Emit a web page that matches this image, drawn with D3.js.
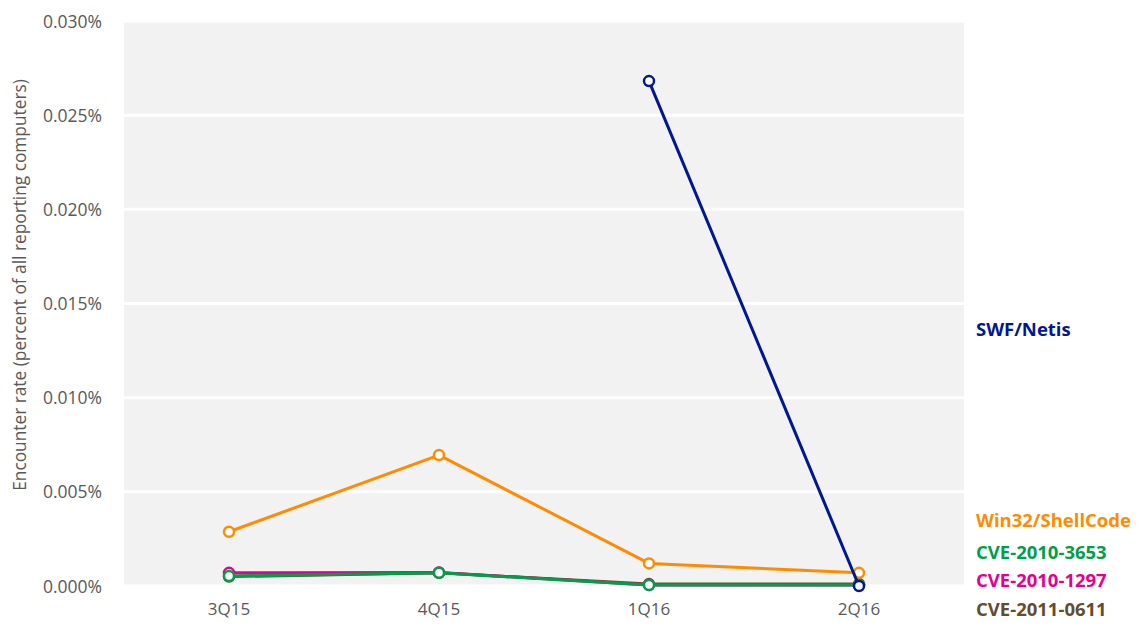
<!DOCTYPE html>
<html><head><meta charset="utf-8">
<script src="https://cdn.jsdelivr.net/npm/d3@7"></script>
<style>
html,body{margin:0;padding:0;background:#fff;}
svg{display:block;}
svg text{font-family:"Open Sans","Noto Sans",sans-serif;}
</style></head>
<body><svg id="chart" width="1139" height="626"></svg>
<script>
const quarters = ["3Q15","4Q15","1Q16","2Q16"];
const yTicks = [0,0.005,0.01,0.015,0.02,0.025,0.03];
const seriesNames = ["CVE-2011-0611","CVE-2010-1297","CVE-2010-3653","Win32/ShellCode","SWF/Netis"];
const cve20110611 = [0.0005,0.0007,0.0001,0.0001];
const cve20101297 = [0.0007,0.00072,0.00005,0.00005];
const cve20103653 = [0.00053,0.0007,0.00005,0.00005];
const shellCode = [0.00288,0.00695,0.0012,0.0007];
const swfNetis = [null,null,0.02681,0];
const seriesColors = ["#634d2e","#e3008c","#009e49","#ff8c00","#00188f"];

const series = [cve20110611,cve20101297,cve20103653,shellCode,swfNetis].map((v,i)=>({name:seriesNames[i],values:v,color:seriesColors[i]}));

// layout
const L = {left:124,right:964,top:21,bottom:586};
const legendY = {"SWF/Netis":330,"Win32/ShellCode":521,"CVE-2010-3653":553,"CVE-2010-1297":581,"CVE-2011-0611":610};

const svg = d3.select("#chart");
const x = d3.scaleBand().domain(quarters).range([L.left,L.right]);
const y = d3.scaleLinear().domain([0,0.03]).range([L.bottom,L.top]);

svg.append("rect").attr("x",L.left).attr("y",L.top).attr("width",L.right-L.left).attr("height",L.bottom-L.top).attr("fill","#f2f2f2");

const fmt = d3.format(".3f");
const yAxis = d3.axisLeft(y).tickValues(yTicks).tickFormat(d=>fmt(d)+"%").tickSize(0).tickPadding(22);
const gy = svg.append("g").attr("transform",`translate(${L.left},0)`).call(yAxis);
gy.select(".domain").remove();
gy.attr("font-family",null);
gy.selectAll("text").attr("fill","#595959").attr("font-size",17.5).attr("dy","0.35em");

// white gridlines
svg.append("g").selectAll("line").data(yTicks).join("line")
  .attr("x1",L.left).attr("x2",L.right).attr("y1",d=>y(d)).attr("y2",d=>y(d))
  .attr("stroke","#fff").attr("stroke-width",3);

const xAxis = d3.axisBottom(x).tickSize(0).tickPadding(20);
const gx = svg.append("g").attr("transform",`translate(0,${L.bottom})`).call(xAxis);
gx.select(".domain").remove();
gx.attr("font-family",null);
gx.selectAll("text").attr("fill","#595959").attr("font-size",17).attr("dy","0.5em");

svg.append("text").attr("transform",`translate(26,${285}) rotate(-90)`)
  .attr("text-anchor","middle").attr("fill","#595959").attr("font-size",17.3)
  .text("Encounter rate (percent of all reporting computers)");

const cx = q => x(q)+x.bandwidth()/2;
const line = d3.line().defined(d=>d.v!=null).x(d=>cx(d.q)).y(d=>y(d.v));

series.forEach(s=>{
  const pts = s.values.map((v,i)=>({q:quarters[i],v}));
  const g = svg.append("g");
  g.append("path").datum(pts).attr("d",line).attr("fill","none").attr("stroke",s.color).attr("stroke-width",3).attr("stroke-linejoin","round");
  g.selectAll("circle").data(pts.filter(d=>d.v!=null)).join("circle")
    .attr("cx",d=>cx(d.q)).attr("cy",d=>y(d.v)).attr("r",5)
    .attr("fill","#fff").attr("stroke",s.color).attr("stroke-width",2.5);
  svg.append("text").attr("x",976).attr("y",legendY[s.name]).attr("dy","0.35em")
    .attr("fill",s.color).attr("font-size",18.5).attr("font-weight","bold").text(s.name);
});
</script></body></html>
